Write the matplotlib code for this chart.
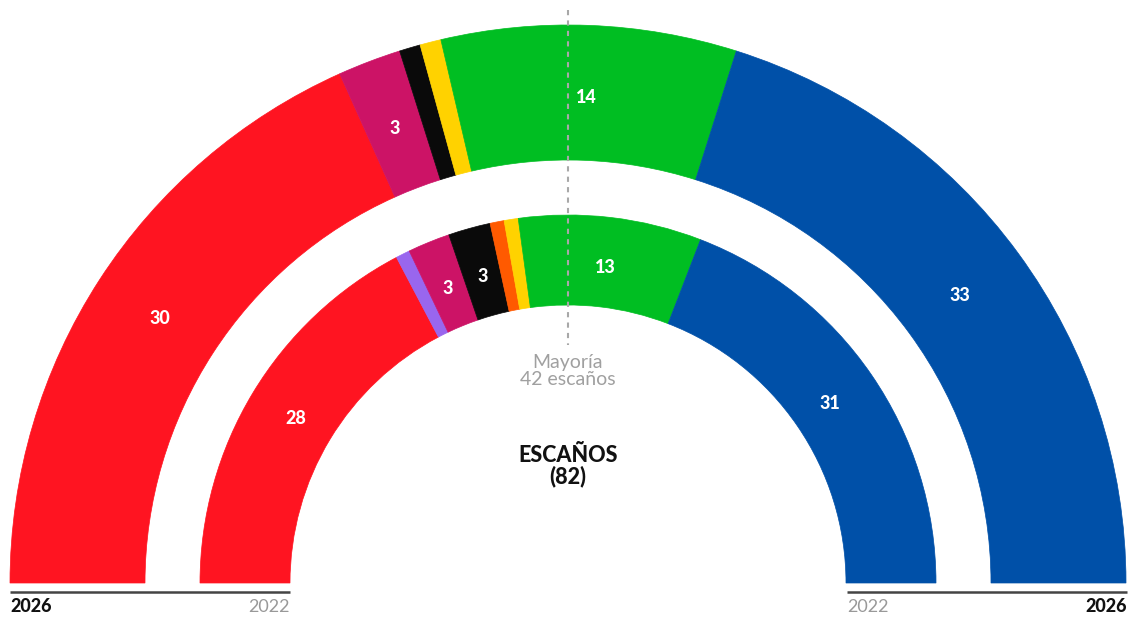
import matplotlib
matplotlib.use("Agg")
import matplotlib.pyplot as plt
from matplotlib.patches import Wedge
import numpy as np

plt.rcParams['font.family'] = ['Lato', 'DejaVu Sans']

# Data
seats_2026 = [30, 3, 1, 1, 14, 33]
colors_2026 = ["#FF1421", "#CC1366", "#0A0A0A", "#FFD200", "#00BE22", "#0050A8"]
labels_2026 = ["30", "3", "", "", "14", "33"]

seats_2022 = [28, 1, 3, 3, 1, 1, 13, 31]
colors_2022 = ["#FF1421", "#9966EE", "#CC1366", "#0A0A0A", "#FF5A00", "#FFD200", "#00BE22", "#0050A8"]
labels_2022 = ["28", "", "3", "3", "", "", "13", "31"]

total_seats = 82
majority = 42

W, H = 1129, 619
fig = plt.figure(figsize=(W / 100, H / 100), dpi=100)
ax = fig.add_axes([0, 0, 1, 1])
ax.set_xlim(0, W)
ax.set_ylim(0, H)
ax.axis('off')

cx, cy = 568, H - 583


def draw_ring(seats, colors, labels, r_out, r_in, rlab):
    total = sum(seats)
    cum = 0
    for s, c, lab in zip(seats, colors, labels):
        t2 = 180 - cum * 180 / total
        t1 = 180 - (cum + s) * 180 / total
        ax.add_patch(Wedge((cx, cy), r_out, t1, t2, width=r_out - r_in,
                           facecolor=c, edgecolor=c, linewidth=0.5))
        if lab:
            mid = np.radians((t1 + t2) / 2)
            ax.text(cx + rlab * np.cos(mid), cy + rlab * np.sin(mid), lab,
                    color="white", fontsize=13, fontweight="black",
                    ha="center", va="center")
        cum += s


draw_ring(seats_2026, colors_2026, labels_2026, 558, 423, 486)
draw_ring(seats_2022, colors_2022, labels_2022, 368, 278, 318)

# Majority line
ax.plot([cx, cx], [H - 10, H - 345], color="#A8A8A8", linestyle=(0, (2.5, 2.5)), linewidth=1.5)
ax.text(cx, H - 371, f"Mayoría\n{majority} escaños", color="#A0A0A0", fontsize=14,
        ha="center", va="center", linespacing=0.95)
ax.text(cx, H - 466, f"ESCAÑOS\n({total_seats})", color="#111111", fontsize=15.5,
        fontweight="black", ha="center", va="center", linespacing=0.95)

# Baselines and year labels
ax.plot([10, 290], [H - 592, H - 592], color="#444444", linewidth=1.8, solid_capstyle="butt")
ax.plot([847, 1127], [H - 592, H - 592], color="#444444", linewidth=1.8, solid_capstyle="butt")
ax.text(10, H - 607, "2026", color="#111111", fontsize=13, fontweight="black", ha="left", va="center")
ax.text(290, H - 607, "2022", color="#999999", fontsize=13, ha="right", va="center")
ax.text(847, H - 607, "2022", color="#999999", fontsize=13, ha="left", va="center")
ax.text(1127, H - 607, "2026", color="#111111", fontsize=13, fontweight="black", ha="right", va="center")

fig.savefig("out.png", dpi=100, facecolor="white")
